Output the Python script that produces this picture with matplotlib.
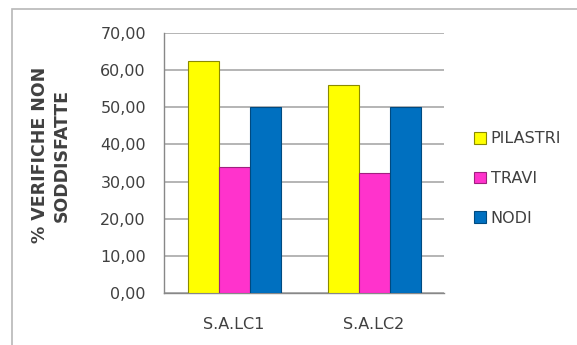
import matplotlib.pyplot as plt
import matplotlib.patches as mpatches
import numpy as np

categories = ["S.A.LC1", "S.A.LC2"]
series = ["PILASTRI", "TRAVI", "NODI"]
pilastri = [62.5, 56.0]
travi = [34.0, 32.4]
nodi = [50.0, 50.0]
yticks = [0, 10, 20, 30, 40, 50, 60, 70]

colors = ["#FFFF00", "#FF33CC", "#0070C0"]
edges = ["#8a8a00", "#a0207f", "#004a80"]

plt.rcParams["font.family"] = ["DejaVu Sans"]

fig = plt.figure(figsize=(5.77, 3.45), dpi=100)
W, H = 577, 345
ax = fig.add_axes([164 / W, 1 - 293 / H, (444 - 164) / W, (293 - 33) / H])

# outer chart frame
fig.patches.append(mpatches.Rectangle((12 / W, -0.1), 1.2, 1 - 9 / H + 0.1,
                                      transform=fig.transFigure, fill=False,
                                      edgecolor="#b8b8b8", linewidth=1.2))

x = np.arange(len(categories))
bw = 31 / 140  # bar width in data units (group spacing 140 px)
for i, (vals, c, e) in enumerate(zip([pilastri, travi, nodi], colors, edges)):
    ax.bar(x + (i - 1) * bw, vals, bw, color=c, edgecolor=e, linewidth=0.8,
           label=series[i], zorder=3)

ax.set_xlim(-0.5, 1.5)
ax.set_ylim(0, 70)
ax.set_yticks(yticks)
ax.set_yticklabels([f"{v:.2f}".replace(".", ",") for v in yticks])
ax.set_xticks(x)
ax.set_xticklabels(categories)
ax.tick_params(axis="y", length=0, labelsize=11.5, labelcolor="#404040", pad=13)
ax.tick_params(axis="x", length=0, labelsize=11.5, labelcolor="#404040", pad=17)
ax.grid(axis="y", color="#a8a8a8", linewidth=1.2, zorder=0)
for s in ["top", "right"]:
    ax.spines[s].set_visible(False)
for s in ["left", "bottom"]:
    ax.spines[s].set_color("#888888")
    ax.spines[s].set_linewidth(1.0)

fig.text(51 / W, 1 - 155 / H, "% VERIFICHE NON\nSODDISFATTE", rotation=90,
         ha="center", va="center", fontsize=12.5, fontweight="bold",
         color="#404040", linespacing=1.25)

ax.legend(loc="center left", bbox_to_anchor=(1.055, 0.44), frameon=False,
          fontsize=11.5, labelcolor="#404040", handlelength=0.75, handleheight=0.75,
          handletextpad=0.3, labelspacing=1.55)

fig.savefig("out.png", dpi=100)
